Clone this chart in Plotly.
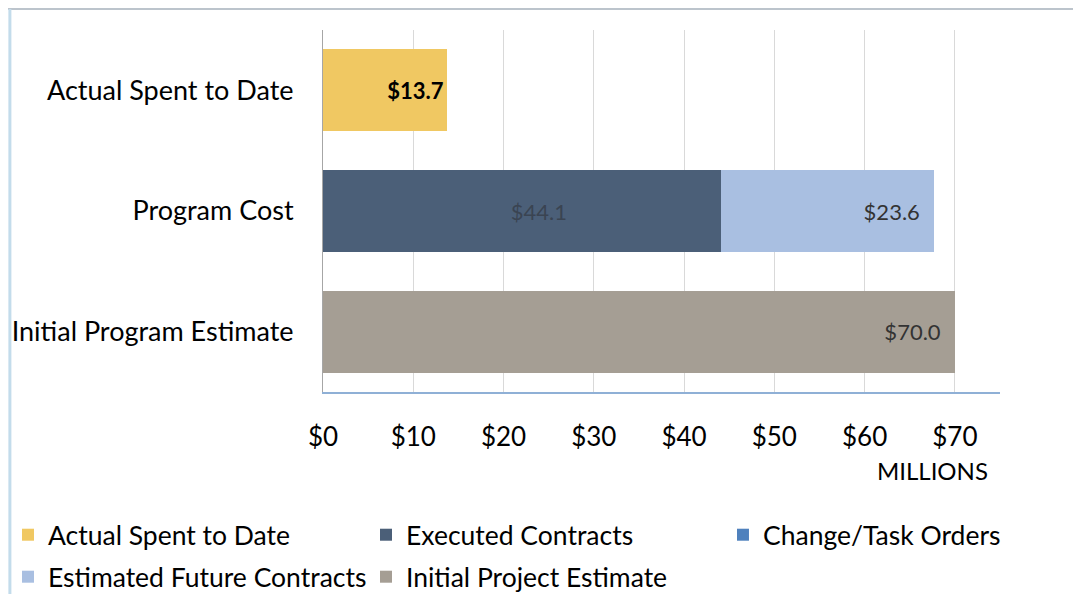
import plotly.graph_objects as go

categories = ["Initial Program Estimate", "Program Cost", "Actual Spent to Date"]
actual_spent = [None, None, 13.7]
executed_contracts = [None, 44.1, None]
change_task_orders = [None, 0, None]
estimated_future = [None, 23.6, None]
initial_estimate = [70.0, None, None]
tick_vals = [0, 10, 20, 30, 40, 50, 60, 70]
tick_text = ["$0", "$10", "$20", "$30", "$40", "$50", "$60", "$70"]

FONT = "Lato"
NB = "\u00a0"

fig = go.Figure()
fig.add_trace(go.Bar(
    name="Actual Spent to Date", y=categories, x=actual_spent, orientation="h",
    marker=dict(color="#F0C862", line=dict(width=0)),
    texttemplate="<b>$%{x:.1f}</b>", textposition="inside", insidetextanchor="end",
    textfont=dict(family=FONT, size=22, color="#000000"),
    legend="legend",
))
fig.add_trace(go.Bar(
    name="Executed Contracts", y=categories, x=executed_contracts, orientation="h",
    marker=dict(color="#4B5F78", line=dict(width=0)),
    texttemplate=NB * 6 + "$%{x:.1f}", textposition="inside", insidetextanchor="middle",
    textfont=dict(family=FONT, size=22, color="#3A4452"),
    legend="legend2",
))
fig.add_trace(go.Bar(
    name="Change/Task Orders", y=categories, x=change_task_orders, orientation="h",
    marker=dict(color="#4F81BD", line=dict(width=0)),
    texttemplate="", hoverinfo="skip",
    legend="legend3",
))
fig.add_trace(go.Bar(
    name="Estimated Future Contracts", y=categories, x=estimated_future, orientation="h",
    marker=dict(color="#A9BFE1", line=dict(width=0)),
    texttemplate="$%{x:.1f}" + NB * 2, textposition="inside", insidetextanchor="end",
    textfont=dict(family=FONT, size=22, color="#333333"),
    legend="legend4",
))
fig.add_trace(go.Bar(
    name="Initial Project Estimate", y=categories, x=initial_estimate, orientation="h",
    marker=dict(color="#A59E94", line=dict(width=0)),
    texttemplate="$%{x:.1f}" + NB * 2, textposition="inside", insidetextanchor="end",
    textfont=dict(family=FONT, size=22, color="#333333"),
    legend="legend5",
))

legend_common = dict(
    orientation="h", xanchor="left", yanchor="middle",
    font=dict(family=FONT, size=26.5, color="#000000"),
    itemclick=False, bgcolor="rgba(0,0,0,0)",
)
COL1, COL2, COL3 = -0.4653, 0.0635, 0.5908
ROW1, ROW2 = -0.395, -0.511

fig.update_layout(
    width=1073, height=586,
    margin=dict(l=315, r=81, t=22, b=202, autoexpand=False),
    barmode="stack", bargap=0.32,
    plot_bgcolor="white", paper_bgcolor="white",
    font=dict(family=FONT, size=26, color="#000000"),
    showlegend=True,
    legend=dict(x=COL1, y=ROW1, **legend_common),
    legend2=dict(x=COL2, y=ROW1, **legend_common),
    legend3=dict(x=COL3, y=ROW1, **legend_common),
    legend4=dict(x=COL1, y=ROW2, **legend_common),
    legend5=dict(x=COL2, y=ROW2, **legend_common),
    xaxis=dict(
        range=[0, 75], tickvals=tick_vals, ticktext=tick_text,
        showgrid=True, gridcolor="#D9D9D9", gridwidth=1,
        showline=True, linecolor="#8FB0D6", linewidth=2,
        ticks="", ticklabelstandoff=21, zeroline=False,
        tickfont=dict(family=FONT, size=26, color="#000000"),
    ),
    yaxis=dict(
        categoryorder="array", categoryarray=categories,
        showline=True, linecolor="#A6A6A6", linewidth=1,
        ticks="", ticklabelstandoff=23, showgrid=False,
        tickfont=dict(family=FONT, size=27, color="#000000"),
    ),
    annotations=[dict(
        text="MILLIONS", xref="paper", yref="paper", x=0.985, y=-0.218,
        xanchor="right", yanchor="middle", showarrow=False,
        font=dict(family=FONT, size=24, color="#000000"),
    )],
    shapes=[
        dict(type="line", xref="paper", yref="paper",
             x0=-0.4653, x1=1.12, y0=1.058, y1=1.058,
             line=dict(color="#BCC4CC", width=2), layer="below"),
        dict(type="line", xref="paper", yref="paper",
             x0=-0.4625, x1=-0.4625, y0=-0.56, y1=1.058,
             line=dict(color="#C3DCEB", width=3), layer="below"),
    ],
)

fig.write_html("out.html")
